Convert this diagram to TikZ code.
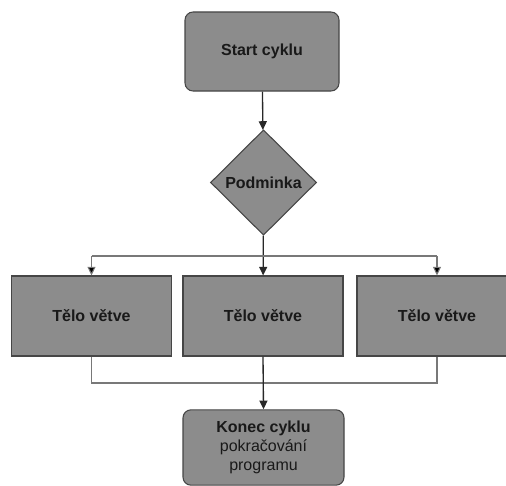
\documentclass[tikz,border=0pt]{standalone}
\usepackage{fontspec}
\setmainfont{Liberation Sans}
\usetikzlibrary{shapes.geometric,arrows.meta}
\definecolor{boxfill}{RGB}{140,140,140}
\definecolor{boxline}{RGB}{70,70,70}
\definecolor{thinline}{RGB}{120,120,120}
\definecolor{mainline}{RGB}{40,40,40}
\definecolor{txt}{RGB}{25,25,25}
\tikzset{
  block/.style={draw=boxline, fill=boxfill, line width=0.8pt, text=txt,
    font=\fontsize{12}{15}\selectfont\bfseries, inner sep=0pt, align=center},
  endbox/.style={block, rounded corners=6pt},
  branchbox/.style={block, minimum width=120pt, minimum height=60pt},
  decision/.style={block, diamond, minimum width=79.5pt, minimum height=79pt},
  flow/.style={draw=mainline, line width=1pt, -{Triangle[length=6.5pt,width=6pt]}},
  branch/.style={draw=thinline, line width=0.8pt},
  brancharrow/.style={branch, -{Triangle[length=6.5pt,width=6pt,fill=black]}},
}
\begin{document}
\begin{tikzpicture}[x=0.75pt,y=-0.75pt]
  \useasboundingbox (0,0) rectangle (506,485);
  \clip (0,0) rectangle (506,485);

  % start and end of the loop
  \node[endbox, minimum width=115.5pt, minimum height=59.25pt] (start) at (262,51.5) {Start cyklu};
  \node[decision] (cond) at (263.5,182.5) {Podminka};

  % the three branch bodies
  \node[branchbox] (b1) at (91.5,316) {Tělo větve};
  \node[branchbox] (b2) at (263,316) {Tělo větve};
  \node[branchbox] (b3) at (437,316) {Tělo větve};

  \node[endbox, minimum width=120.75pt, minimum height=56.5pt] (end) at (263.5,447.5)
    {Konec cyklu\\[-1pt]{\mdseries pokračování}\\[-1pt]{\mdseries programu}};

  % split and join rails
  \coordinate (split) at (263,256);
  \coordinate (join) at (263,383);

  \draw[flow] (start) -- (cond);
  \draw[flow] (cond) -- (b2);
  \draw[branch] (b1.north |- split) -- (b3.north |- split);
  \draw[brancharrow] (b1.north |- split) -- (b1.north);
  \draw[brancharrow] (b3.north |- split) -- (b3.north);

  \draw[branch] (b1.south) -- (b1.south |- join) -- (b3.south |- join) -- (b3.south);
  \draw[flow] (b2.south) -- (end.north);
\end{tikzpicture}
\end{document}
